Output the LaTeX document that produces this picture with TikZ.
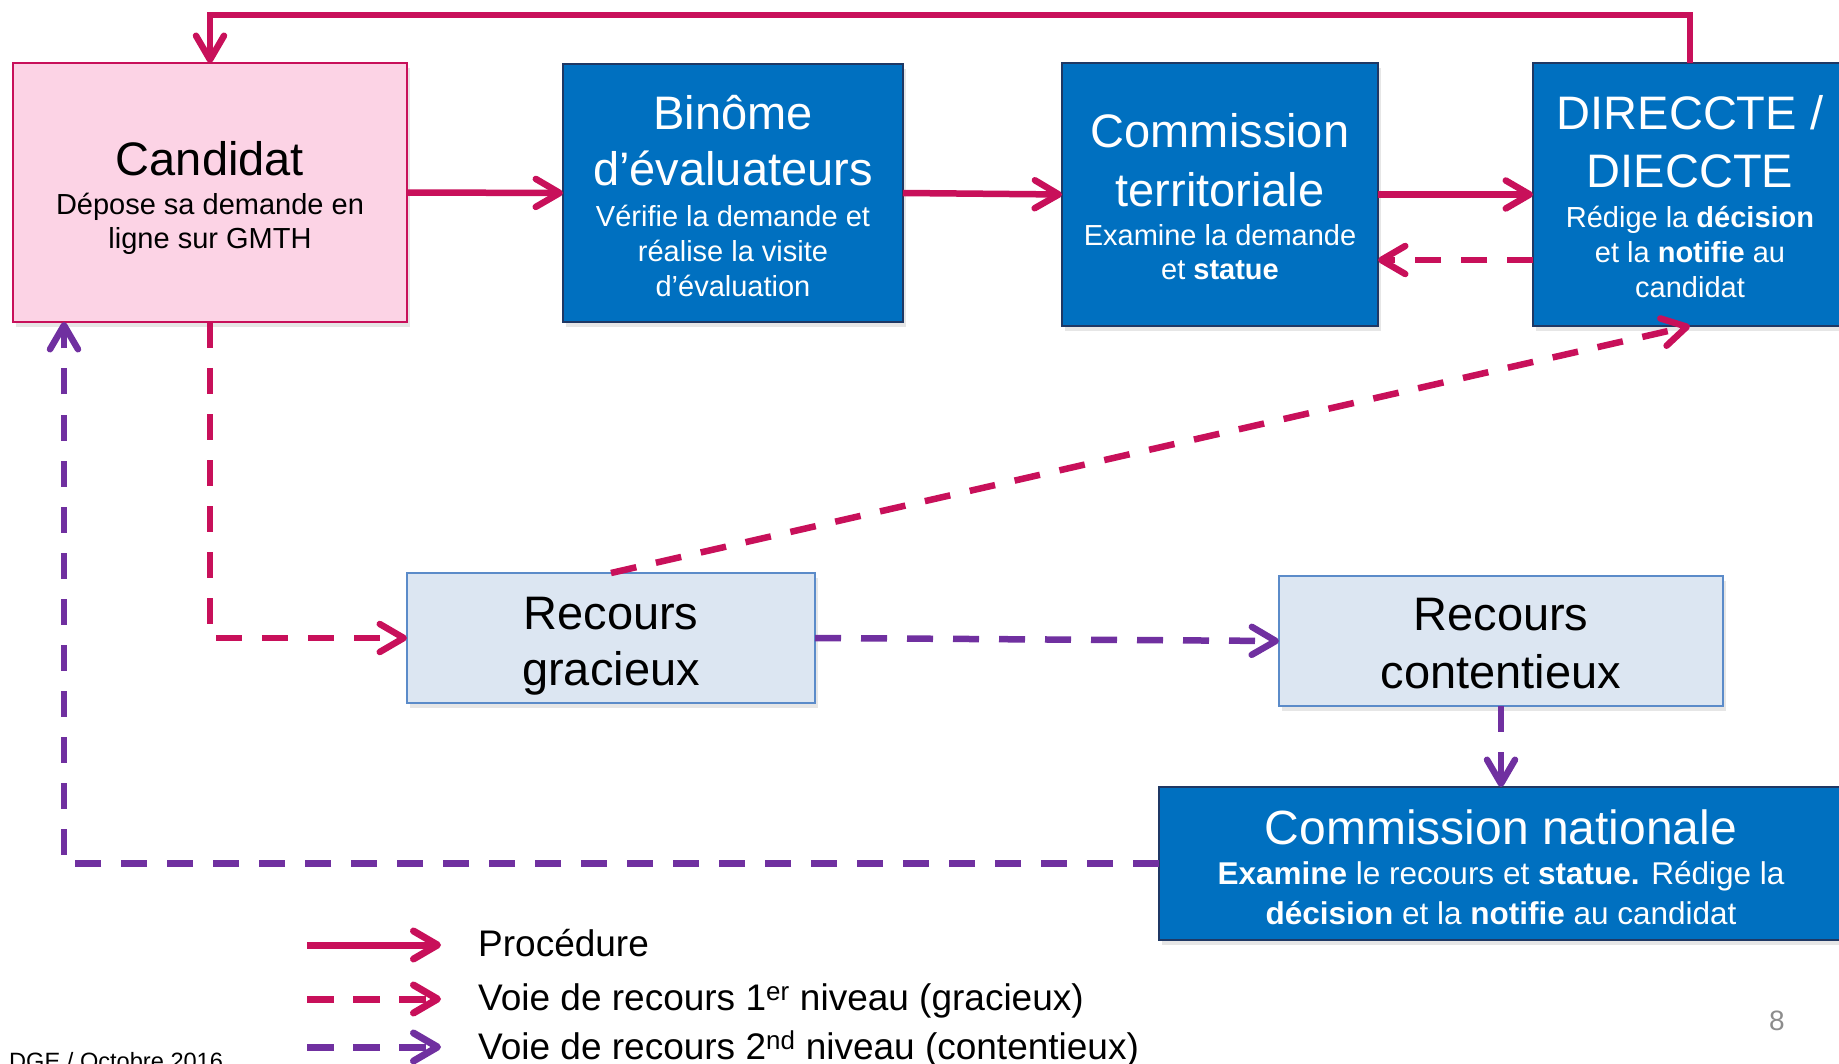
\documentclass[tikz,border=0pt]{standalone}
\usepackage{fontspec}
\setmainfont{Liberation Sans}
\usetikzlibrary{arrows.meta,shadows,calc}

\definecolor{crim}{HTML}{C8105A}
\definecolor{purp}{HTML}{7030A0}
\definecolor{boxblue}{HTML}{0070C0}
\definecolor{navy}{HTML}{1F3864}
\definecolor{pinkfill}{HTML}{FCD3E5}
\definecolor{lightfill}{HTML}{DCE6F2}
\definecolor{lightborder}{HTML}{5B8BC9}
\definecolor{pagegray}{HTML}{8C8C8C}

\begin{document}
\begin{tikzpicture}[x=1pt,y=-1pt,
  box/.style={draw, line width=2pt, outer sep=0pt, inner sep=0pt,
    drop shadow={shadow xshift=3pt,shadow yshift=-5pt,opacity=0.2}},
  bluebox/.style={box, fill=boxblue, draw=navy},
  pinkbox/.style={box, fill=pinkfill, draw=crim},
  lightbox/.style={box, fill=lightfill, draw=lightborder},
  title/.style={font=\fontsize{47}{56}\selectfont, anchor=base, inner sep=0pt},
  sub/.style={font=\fontsize{29}{35}\selectfont, anchor=base, inner sep=0pt},
  bigsub/.style={font=\fontsize{31.5}{38}\selectfont, anchor=base, inner sep=0pt},
  legtext/.style={font=\fontsize{37}{44}\selectfont, anchor=base west, inner sep=0pt},
  tipbarb/.style={-{Straight Barb[length=24pt,width=28pt,round]}},
  proc/.style={draw=crim, line width=6.5pt, tipbarb},
  recone/.style={draw=crim, line width=6.5pt, dash pattern=on 26pt off 20pt, tipbarb},
  rectwo/.style={draw=purp, line width=6.5pt, dash pattern=on 26pt off 20pt, tipbarb}
]
\useasboundingbox (0,0) rectangle (1839,1064);
\clip (0,0) rectangle (1839,1064);

% boxes
\node[pinkbox, minimum width=394pt, minimum height=259pt] (cand) at (210,192.5) {};
\node[bluebox, minimum width=340pt, minimum height=258pt] (bin) at (733,193) {};
\node[bluebox, minimum width=316pt, minimum height=263pt] (ct) at (1220,194.5) {};
\node[bluebox, minimum width=314pt, minimum height=263pt] (dir) at (1690,194.5) {};
\node[lightbox, minimum width=408pt, minimum height=130pt] (rg) at (611,638) {};
\node[lightbox, minimum width=444pt, minimum height=130pt] (rc) at (1501,641) {};
\node[bluebox, minimum width=684pt, minimum height=153pt] (cn) at (1501,863.5) {};

% texts
\node[title] (c1) at (210,176) {Candidat};
\node[sub] (c2) at (210,215) {Dépose sa demande en};
\node[sub] (c3) at (210,249) {ligne sur GMTH};

\begin{scope}[text=white]
\node[title] (b1) at (733,130) {Binôme};
\node[title] (b2) at (733,186) {d’évaluateurs};
\node[sub] (b3) at (733,227) {Vérifie la demande et};
\node[sub] (b4) at (733,262) {réalise la visite};
\node[sub] (b5) at (733,297) {d’évaluation};

\node[title] (t1) at (1220,148) {Commission};
\node[title] (t2) at (1220,207) {territoriale};
\node[sub] (t3) at (1220,246) {Examine la demande};
\node[sub] (t4) at (1220,280) {et \textbf{statue}};

\node[title] (d1) at (1690,130) {DIRECCTE /};
\node[title] (d2) at (1690,188) {DIECCTE};
\node[sub] (d3) at (1690,228) {Rédige la \textbf{décision}};
\node[sub] (d4) at (1690,263) {et la \textbf{notifie} au};
\node[sub] (d5) at (1690,298) {candidat};

\node[title, font=\fontsize{48}{57}\selectfont] (n1) at (1501,844) {Commission nationale};
\node[bigsub] (n2) at (1501,884) {\textbf{Examine} le recours et \textbf{statue.} Rédige la};
\node[bigsub] (n3) at (1501,924) {\textbf{décision} et la \textbf{notifie} au candidat};
\end{scope}

\node[title] (g1) at (611,629) {Recours};
\node[title] (g2) at (611,685) {gracieux};
\node[title] (r1) at (1501,630) {Recours};
\node[title] (r2) at (1501,688) {contentieux};

% connectors
\coordinate (tc) at (210,15);
\draw[proc] (dir.north) |- (tc) -- (cand.north);
\draw[proc] (cand.east) -- (bin.west);
\draw[proc] (bin.east) -- (ct.west);
\draw[proc] (ct.east) -- (dir.west);
\draw[recone] ($(dir.west)+(0,65.5)$) -- ($(ct.east)+(0,65.5)$);
\draw[recone] (cand.south) |- (rg.west);
\draw[recone] (rg.north) -- (dir.south);
\draw[rectwo] (rg.east) -- (rc.west);
\draw[rectwo] (rc.south) -- (cn.north);
\draw[rectwo] (cn.west) -| ($(cand.south west)+(51,0)$);

% legend
\coordinate (la) at (307,945);
\coordinate (lb) at (441,945);
\coordinate (lc) at (307,999);
\coordinate (ld) at (441,999);
\coordinate (le) at (307,1047);
\coordinate (lf) at (441,1047);
\draw[proc, line width=7pt] (la) -- (lb);
\draw[recone, line width=7pt, dash pattern=on 27pt off 19pt] (lc) -- (ld);
\draw[rectwo, line width=7pt, dash pattern=on 27pt off 19pt] (le) -- (lf);
\node[legtext] (l1) at (478,956) {Procédure};
\node[legtext] (l2) at (478,1010) {Voie de recours 1\textsuperscript{er} niveau (gracieux)};
\node[legtext] (l3) at (478,1059) {Voie de recours 2\textsuperscript{nd} niveau (contentieux)};

\node[font=\fontsize{28}{34}\selectfont, text=pagegray, anchor=base, inner sep=0pt] (pg) at (1777,1030) {8};
\node[font=\fontsize{23.6}{28}\selectfont, anchor=base west, inner sep=0pt] (dge) at (9,1069) {DGE / Octobre 2016};
\end{tikzpicture}
\end{document}
